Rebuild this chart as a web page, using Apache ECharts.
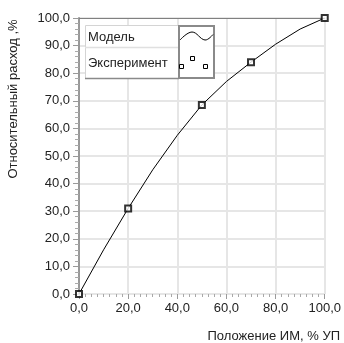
<!DOCTYPE html>
<html><head><meta charset="utf-8">
<script src="https://cdn.jsdelivr.net/npm/echarts@6/dist/echarts.min.js"></script>
<style>html,body{margin:0;padding:0;background:#fff}#c{width:344px;height:343px}</style>
</head><body><div id="c"></div>
<script>
const modelX = [0, 10, 20, 30, 40, 50, 60, 70, 80, 90, 100];
const modelY = [0, 16, 31, 45, 57.5, 68.5, 77, 84, 90.5, 96, 100];
const expX = [0, 20, 50, 70, 100];
const expY = [0, 31, 68.5, 84, 100];
const xTicks = [0, 20, 40, 60, 80, 100];
const yTicks = [0, 10, 20, 30, 40, 50, 60, 70, 80, 90, 100];
const legendNames = ['Модель', 'Эксперимент'];
const yName = 'Относительный расход ,%';
const xName = 'Положение ИМ, % УП';

const FONT = '"Liberation Sans", Arial, sans-serif';
const fmt = v => v.toFixed(1).replace('.', ',');
const chart = echarts.init(document.getElementById('c'), null, {renderer: 'canvas'});
chart.setOption({
  animation: false,
  backgroundColor: '#fff',
  grid: {left: 79, right: 18, top: 18, bottom: 49},
  xAxis: [{
    type: 'value', min: xTicks[0], max: xTicks[xTicks.length - 1], interval: 20,
    axisLine: {show: false},
    axisTick: {show: true, length: 5, lineStyle: {color: '#9a9a9a'}},
    minorTick: {show: true, splitNumber: 8, length: 3, lineStyle: {color: '#a8a8a8'}},
    axisLabel: {formatter: fmt, color: '#222', fontFamily: FONT, fontSize: 13, margin: 8},
    splitLine: {show: true, lineStyle: {color: '#e6e6e6', width: 2}}
  }, {
    type: 'value', position: 'top', min: 0, max: 100,
    axisLine: {show: true, lineStyle: {color: '#808080', width: 1}},
    axisTick: {show: false}, axisLabel: {show: false}, splitLine: {show: false}
  }],
  yAxis: {
    type: 'value', min: yTicks[0], max: yTicks[yTicks.length - 1], interval: 10,
    axisLine: {show: true, onZero: false, lineStyle: {color: '#999', width: 2}},
    axisTick: {show: true, length: 6, lineStyle: {color: '#9a9a9a'}},
    minorTick: {show: true, splitNumber: 5, length: 4, lineStyle: {color: '#aaaaaa'}},
    axisLabel: {formatter: fmt, color: '#222', fontFamily: FONT, fontSize: 13, margin: 9},
    splitLine: {show: true, lineStyle: {color: '#e6e6e6', width: 2}}
  },
  series: [{
    name: legendNames[0], type: 'line', xAxisIndex: 0,
    data: modelX.map((x, i) => [x, modelY[i]]),
    showSymbol: false, symbol: 'none',
    lineStyle: {color: '#000', width: 1}, z: 3
  }, {
    name: legendNames[1], type: 'scatter', xAxisIndex: 0,
    data: expX.map((x, i) => [x, expY[i]]),
    symbol: 'emptyRect', symbolSize: 6,
    itemStyle: {color: '#000', borderColor: '#000', borderWidth: 1}, z: 4
  }],
  graphic: [
    {type: 'rect', shape: {x: 85.5, y: 25.5, width: 93, height: 53}, style: {fill: '#fff', stroke: '#d4d4d4', lineWidth: 1}, z: 10},
    {type: 'line', shape: {x1: 85, y1: 47.5, x2: 179, y2: 47.5}, style: {stroke: '#e0e0e0', lineWidth: 1.5}, z: 11},
    {type: 'line', shape: {x1: 85, y1: 78.5, x2: 179, y2: 78.5}, style: {stroke: '#8a8a8a', lineWidth: 1.5}, z: 11},
    {type: 'rect', shape: {x: 179, y: 26, width: 35, height: 52}, style: {fill: '#fff', stroke: '#8a8a8a', lineWidth: 2}, z: 11},
    {type: 'polyline', shape: {points: [[180, 40], [192, 32], [205, 40], [213, 34.5]], smooth: 0.4}, style: {stroke: '#000', lineWidth: 1, fill: null}, z: 12},
    {type: 'rect', shape: {x: 179.5, y: 64.5, width: 4, height: 4}, style: {fill: '#fff', stroke: '#000', lineWidth: 1}, z: 12},
    {type: 'rect', shape: {x: 190.5, y: 56.5, width: 4, height: 4}, style: {fill: '#fff', stroke: '#000', lineWidth: 1}, z: 12},
    {type: 'rect', shape: {x: 203.5, y: 64.5, width: 4, height: 4}, style: {fill: '#fff', stroke: '#000', lineWidth: 1}, z: 12},
    {type: 'text', x: 88, y: 37, style: {text: legendNames[0], fill: '#222', font: '13px ' + FONT, textVerticalAlign: 'middle'}, z: 12},
    {type: 'text', x: 88, y: 63, style: {text: legendNames[1], fill: '#222', font: '13px ' + FONT, textVerticalAlign: 'middle'}, z: 12},
    {type: 'text', x: 13, y: 99, rotation: Math.PI / 2, style: {text: yName, fill: '#222', font: '13px ' + FONT, textAlign: 'center', textVerticalAlign: 'middle'}, z: 12},
    {type: 'text', x: 340, y: 336, style: {text: xName, fill: '#222', font: '13px ' + FONT, textAlign: 'right', textVerticalAlign: 'middle'}, z: 12}
  ]
});
</script></body></html>
